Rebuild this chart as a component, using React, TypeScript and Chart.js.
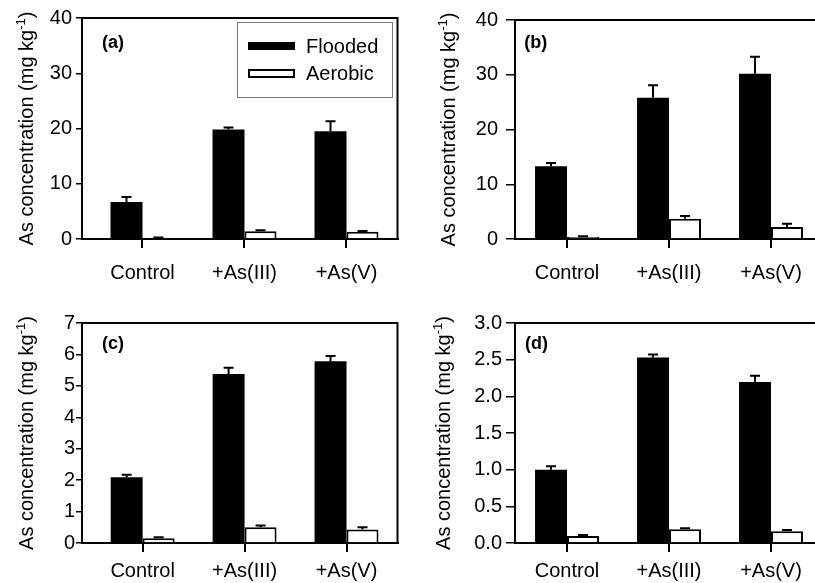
import React, { useEffect, useRef } from "react";
import { Chart, registerables } from "chart.js";
Chart.register(...registerables);

// ---- data ----
const categories = ["Control", "+As(III)", "+As(V)"];
const seriesNames = ["Flooded", "Aerobic"];

const floodedA = [6.7, 19.8, 19.5];
const floodedAErr = [0.9, 0.4, 1.8];
const aerobicA = [0.15, 1.4, 1.3];
const aerobicAErr = [0.1, 0.2, 0.15];

const floodedB = [13.3, 25.8, 30.2];
const floodedBErr = [0.6, 2.3, 3.1];
const aerobicB = [0.35, 3.7, 2.2];
const aerobicBErr = [0.15, 0.5, 0.6];

const floodedC = [2.09, 5.38, 5.78];
const floodedCErr = [0.08, 0.2, 0.17];
const aerobicC = [0.15, 0.5, 0.43];
const aerobicCErr = [0.03, 0.06, 0.07];

const floodedD = [1.0, 2.53, 2.195];
const floodedDErr = [0.045, 0.04, 0.085];
const aerobicD = [0.095, 0.186, 0.16];
const aerobicDErr = [0.015, 0.014, 0.017];

const yTicksAB = [0, 10, 20, 30, 40];
const yTickLabelsAB = ["0", "10", "20", "30", "40"];
const yTicksC = [0, 1, 2, 3, 4, 5, 6, 7];
const yTickLabelsC = ["0", "1", "2", "3", "4", "5", "6", "7"];
const yTicksD = [0, 0.5, 1.0, 1.5, 2.0, 2.5, 3.0];
const yTickLabelsD = ["0.0", "0.5", "1.0", "1.5", "2.0", "2.5", "3.0"];

const panelLabels = ["(a)", "(b)", "(c)", "(d)"];
const yTitleMain = "As concentration (mg kg";
const yTitleSup = "-1";
const yTitleEnd = ")";

const FONT = "'Liberation Sans', Arial, Helvetica, sans-serif";

type Panel = {
  label: string;
  flooded: number[];
  floodedErr: number[];
  aerobic: number[];
  aerobicErr: number[];
  yTicks: number[];
  yTickLabels: string[];
  left: number;
  top: number;
  w: number;
  h: number;
  yWidth: number;
  xHeight: number;
  padTop: number;
  padRight: number;
  xMin: number;
  xMax: number;
  yTickLen: number;
  yTickPad: number;
  xTickPad: number;
  titleX: number;
  labelX: number;
  labelY: number;
  box: boolean;
  legend: boolean;
};

const panels: Panel[] = [
  {
    label: panelLabels[0], flooded: floodedA, floodedErr: floodedAErr, aerobic: aerobicA, aerobicErr: aerobicAErr,
    yTicks: yTicksAB, yTickLabels: yTickLabelsAB,
    left: 0, top: 0, w: 405, h: 290, yWidth: 82, xHeight: 51, padTop: 18, padRight: 7.5,
    xMin: -0.593, xMax: 2.5, yTickLen: 6, yTickPad: 4, xTickPad: 13, titleX: 33, labelX: 102, labelY: 43.3,
    box: true, legend: true,
  },
  {
    label: panelLabels[1], flooded: floodedB, floodedErr: floodedBErr, aerobic: aerobicB, aerobicErr: aerobicBErr,
    yTicks: yTicksAB, yTickLabels: yTickLabelsAB,
    left: 405, top: 0, w: 425, h: 290, yWidth: 110, xHeight: 51, padTop: 18, padRight: 8,
    xMin: -0.51, xMax: 2.5, yTickLen: 9, yTickPad: 8, xTickPad: 13, titleX: 50, labelX: 119.3, labelY: 43.3,
    box: true, legend: false,
  },
  {
    label: panelLabels[2], flooded: floodedC, floodedErr: floodedCErr, aerobic: aerobicC, aerobicErr: aerobicCErr,
    yTicks: yTicksC, yTickLabels: yTickLabelsC,
    left: 0, top: 290, w: 405, h: 293, yWidth: 82, xHeight: 40, padTop: 33, padRight: 7.5,
    xMin: -0.595, xMax: 2.5, yTickLen: 6, yTickPad: 1, xTickPad: 7, titleX: 33, labelX: 102, labelY: 54,
    box: true, legend: false,
  },
  {
    label: panelLabels[3], flooded: floodedD, floodedErr: floodedDErr, aerobic: aerobicD, aerobicErr: aerobicDErr,
    yTicks: yTicksD, yTickLabels: yTickLabelsD,
    left: 405, top: 290, w: 425, h: 293, yWidth: 110, xHeight: 40, padTop: 33, padRight: 8,
    xMin: -0.51, xMax: 2.5, yTickLen: 9, yTickPad: 4, xTickPad: 7, titleX: 45, labelX: 120, labelY: 54,
    box: true, legend: false,
  },
];

function makeDecorPlugin(p: Panel, errs: number[][]) {
  return {
    id: "decor",
    afterDatasetsDraw(chart: any) {
      const ctx = chart.ctx;
      const yScale = chart.scales.y;
      ctx.save();
      ctx.strokeStyle = "#000";
      ctx.lineWidth = 2;
      chart.data.datasets.forEach((ds: any, di: number) => {
        const meta = chart.getDatasetMeta(di);
        meta.data.forEach((bar: any, i: number) => {
          const v = ds.data[i].y;
          const e = errs[di][i];
          const yTop = yScale.getPixelForValue(v + e);
          const x = bar.x;
          ctx.beginPath();
          ctx.moveTo(x, bar.y);
          ctx.lineTo(x, yTop);
          ctx.moveTo(x - 5, yTop);
          ctx.lineTo(x + 5, yTop);
          ctx.stroke();
        });
      });
      ctx.restore();
    },
    afterDraw(chart: any) {
      const ctx = chart.ctx;
      const a = chart.chartArea;
      const xScale = chart.scales.x;
      ctx.save();
      if (p.box) {
        ctx.strokeStyle = "#000";
        ctx.lineWidth = 2;
        ctx.beginPath();
        ctx.moveTo(a.left, a.top);
        ctx.lineTo(a.right, a.top);
        ctx.lineTo(a.right, a.bottom);
        ctx.stroke();
      }
      // category tick marks below the x axis
      ctx.strokeStyle = "#000";
      ctx.lineWidth = 2;
      ctx.beginPath();
      categories.forEach((_, i) => {
        const x = Math.round(xScale.getPixelForValue(i));
        ctx.moveTo(x, a.bottom);
        ctx.lineTo(x, a.bottom + 9);
      });
      ctx.stroke();
      // panel label
      ctx.fillStyle = "#000";
      ctx.font = `bold 18px ${FONT}`;
      ctx.textAlign = "left";
      ctx.textBaseline = "middle";
      ctx.fillText(p.label, p.labelX, p.labelY);
      // y title
      ctx.save();
      ctx.translate(p.titleX, (a.top + a.bottom) / 2);
      ctx.rotate(-Math.PI / 2);
      ctx.textBaseline = "alphabetic";
      ctx.textAlign = "left";
      ctx.font = `20px ${FONT}`;
      const w1 = ctx.measureText(yTitleMain).width;
      const w3 = ctx.measureText(yTitleEnd).width;
      ctx.font = `13px ${FONT}`;
      const w2 = ctx.measureText(yTitleSup).width;
      const total = w1 + w2 + w3;
      let sx = -total / 2;
      ctx.font = `20px ${FONT}`;
      ctx.fillText(yTitleMain, sx, 0);
      sx += w1;
      ctx.font = `13px ${FONT}`;
      ctx.fillText(yTitleSup, sx, -8);
      sx += w2;
      ctx.font = `20px ${FONT}`;
      ctx.fillText(yTitleEnd, sx, 0);
      ctx.restore();
      // legend
      if (p.legend) {
        ctx.strokeStyle = "#777";
        ctx.lineWidth = 1;
        ctx.strokeRect(237.5, 22.5, 155, 75);
        ctx.fillStyle = "#000";
        ctx.fillRect(248, 42, 47, 8);
        ctx.fillStyle = "#fff";
        ctx.fillRect(248, 70, 47, 7);
        ctx.strokeStyle = "#000";
        ctx.lineWidth = 2;
        ctx.strokeRect(249, 70, 45, 7);
        ctx.fillStyle = "#000";
        ctx.font = `20px ${FONT}`;
        ctx.textAlign = "left";
        ctx.textBaseline = "alphabetic";
        ctx.fillText(seriesNames[0], 306, 53);
        ctx.fillText(seriesNames[1], 306, 80);
      }
      ctx.restore();
    },
  };
}

function PanelChart({ p }: { p: Panel }) {
  const ref = useRef<HTMLCanvasElement | null>(null);
  useEffect(() => {
    if (!ref.current) return;
    const errs = [p.floodedErr, p.aerobicErr];
    const chart = new Chart(ref.current, {
      type: "bar",
      data: {
        datasets: [
          {
            label: seriesNames[0],
            data: p.flooded.map((v, i) => ({ x: i, y: v })),
            backgroundColor: "#000",
            borderColor: "#000",
            borderWidth: 0,
            categoryPercentage: 0.627,
            barPercentage: 1,
          },
          {
            label: seriesNames[1],
            data: p.aerobic.map((v, i) => ({ x: i, y: v })),
            backgroundColor: "#fff",
            borderColor: "#000",
            borderWidth: 2,
            categoryPercentage: 0.627,
            barPercentage: 1,
          },
        ],
      } as any,
      options: {
        responsive: false,
        animation: false,
        events: [],
        layout: { padding: { top: p.padTop, right: p.padRight, left: 0, bottom: 0 } },
        plugins: { legend: { display: false }, tooltip: { enabled: false } },
        scales: {
          x: {
            type: "linear",
            offset: false,
            min: p.xMin,
            max: p.xMax,
            afterBuildTicks: (s: any) => {
              s.ticks = categories.map((_, i) => ({ value: i }));
            },
            afterFit: (s: any) => {
              s.height = p.xHeight;
            },
            ticks: {
              callback: (_v: any, i: number) => categories[i],
              font: { size: 20, family: FONT },
              color: "#000",
              padding: p.xTickPad,
              maxRotation: 0,
              autoSkip: false,
            },
            grid: { offset: false, drawOnChartArea: false, drawTicks: true, tickLength: 9, color: "#000", lineWidth: 2 },
            border: { display: true, color: "#000", width: 2 },
          },
          y: {
            type: "linear",
            min: p.yTicks[0],
            max: p.yTicks[p.yTicks.length - 1],
            afterBuildTicks: (s: any) => {
              s.ticks = p.yTicks.map((v) => ({ value: v }));
            },
            afterFit: (s: any) => {
              s.width = p.yWidth;
            },
            ticks: {
              callback: (_v: any, i: number) => p.yTickLabels[i],
              font: { size: 20, family: FONT },
              color: "#000",
              padding: p.yTickPad,
              autoSkip: false,
            },
            grid: { drawOnChartArea: false, drawTicks: true, tickLength: p.yTickLen, color: "#000", lineWidth: 1.5 },
            border: { display: true, color: "#000", width: 2 },
          },
        },
      } as any,
      plugins: [makeDecorPlugin(p, errs)],
    });
    return () => chart.destroy();
  }, [p]);
  return (
    <div style={{ position: "absolute", left: p.left, top: p.top, width: p.w, height: p.h }}>
      <canvas ref={ref} width={p.w} height={p.h} style={{ width: p.w, height: p.h, display: "block" }} />
    </div>
  );
}

export default function App() {
  return (
    <div
      style={{
        position: "fixed",
        left: 0,
        top: 0,
        width: 815,
        height: 583,
        overflow: "hidden",
        background: "#fff",
      }}
    >
      {panels.map((p) => (
        <PanelChart key={p.label} p={p} />
      ))}
    </div>
  );
}
